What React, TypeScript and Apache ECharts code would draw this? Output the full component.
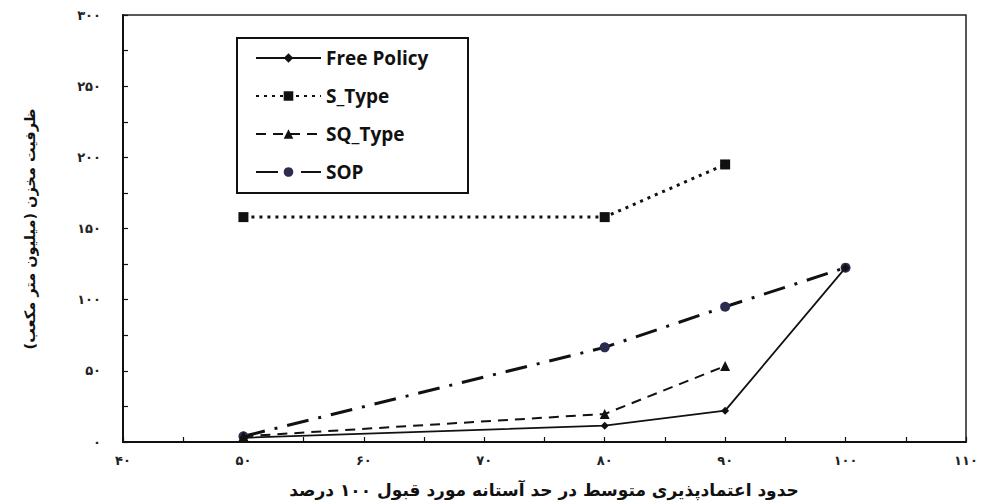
import React, { useEffect, useRef } from "react";
import * as echarts from "echarts";

const seriesNames = ["Free Policy", "S_Type", "SQ_Type", "SOP"];
const xFree = [50, 80, 90, 100];
const freePolicy = [3, 11.5, 22, 122.5];
const xS = [50, 80, 90];
const sType = [158, 158, 195];
const xSQ = [50, 80, 90];
const sqType = [4, 19.7, 53.4];
const xSOP = [50, 80, 90, 100];
const sop = [4, 66.5, 95, 122.5];

const xTitle = "حدود اعتمادپذیری متوسط در حد آستانه مورد قبول ۱۰۰ درصد";
const yTitle = "ظرفیت مخزن (میلیون متر مکعب)";

const fa = (n: number) => String(n).replace(/\d/g, (d) => "۰۱۲۳۴۵۶۷۸۹"[+d]);
const pairs = (xs: number[], ys: number[]) => xs.map((x, i) => [x, ys[i]]);

export default function App() {
  const ref = useRef<HTMLDivElement>(null);
  useEffect(() => {
    if (!ref.current) return;
    const chart = echarts.init(ref.current, undefined, { renderer: "svg" });
    const axisFont = { fontFamily: "DejaVu Sans", fontWeight: "bold" as const, fontSize: 13, color: "#222" };
    chart.setOption({
      animation: false,
      backgroundColor: "#fff",
      grid: { left: 123, top: 15, right: 15, bottom: 60, show: true, borderColor: "#222", borderWidth: 1.5 },
      xAxis: {
        type: "value",
        min: 40,
        max: 110,
        interval: 10,
        axisLine: { show: true, lineStyle: { color: "#111", width: 2 } },
        axisTick: { show: true, inside: true, length: 5, lineStyle: { color: "#111", width: 1.2 } },
        minorTick: { show: true, splitNumber: 2, length: 5, lineStyle: { color: "#111", width: 1.2 } },
        splitLine: { show: false },
        axisLabel: { ...axisFont, margin: 12, formatter: (v: number) => fa(v) },
      },
      yAxis: {
        type: "value",
        min: 0,
        max: 300,
        interval: 50,
        axisLine: { show: true, lineStyle: { color: "#111", width: 2 } },
        axisTick: { show: true, inside: true, length: 5, lineStyle: { color: "#111", width: 1.2 } },
        minorTick: { show: true, splitNumber: 2, length: 5, lineStyle: { color: "#111", width: 1.2 } },
        splitLine: { show: false },
        axisLabel: { ...axisFont, margin: 22, formatter: (v: number) => fa(v) },
      },
      legend: {
        orient: "vertical",
        left: 255,
        top: 48,
        itemWidth: 65,
        itemHeight: 12,
        itemGap: 18,
        padding: 0,
        data: seriesNames,
        textStyle: { fontFamily: "Open Sans", fontWeight: "bold", fontSize: 19, color: "#111", lineHeight: 20 },
      },
      graphic: [
        {
          type: "rect",
          shape: { x: 237, y: 38, width: 231, height: 155 },
          style: { fill: "none", stroke: "#111", lineWidth: 2 },
          z: 10,
        },
        {
          type: "text",
          x: 544,
          y: 490,
          style: {
            text: xTitle,
            fontFamily: "DejaVu Sans",
            fontWeight: "bold",
            fontSize: 17,
            fill: "#111",
            align: "center",
            verticalAlign: "middle",
          },
        },
        {
          type: "text",
          x: 30,
          y: 229,
          rotation: Math.PI / 2,
          style: {
            text: yTitle,
            fontFamily: "DejaVu Sans",
            fontWeight: "bold",
            fontSize: 14.5,
            fill: "#111",
            align: "center",
            verticalAlign: "middle",
          },
        },
      ],
      series: [
        {
          name: seriesNames[0],
          type: "line",
          data: pairs(xFree, freePolicy),
          symbol: "diamond",
          symbolSize: 8,
          itemStyle: { color: "#111" },
          lineStyle: { color: "#111", width: 1.8, type: "solid" },
          z: 4,
        },
        {
          name: seriesNames[1],
          type: "line",
          data: pairs(xS, sType),
          symbol: "rect",
          symbolSize: 10,
          itemStyle: { color: "#111" },
          lineStyle: { color: "#111", width: 3, type: [3, 5] },
          z: 3,
        },
        {
          name: seriesNames[2],
          type: "line",
          data: pairs(xSQ, sqType),
          symbol: "triangle",
          symbolSize: 10,
          itemStyle: { color: "#111" },
          lineStyle: { color: "#111", width: 2, type: [10, 7] },
          z: 3,
        },
        {
          name: seriesNames[3],
          type: "line",
          data: pairs(xSOP, sop),
          symbol: "circle",
          symbolSize: 10,
          itemStyle: { color: "#2c2c50" },
          lineStyle: { color: "#111", width: 3, type: [22, 10, 3, 10] },
          z: 2,
        },
      ],
    });
    return () => chart.dispose();
  }, []);
  return <div ref={ref} style={{ width: 981, height: 502, position: "absolute", left: 0, top: 0 }} />;
}
